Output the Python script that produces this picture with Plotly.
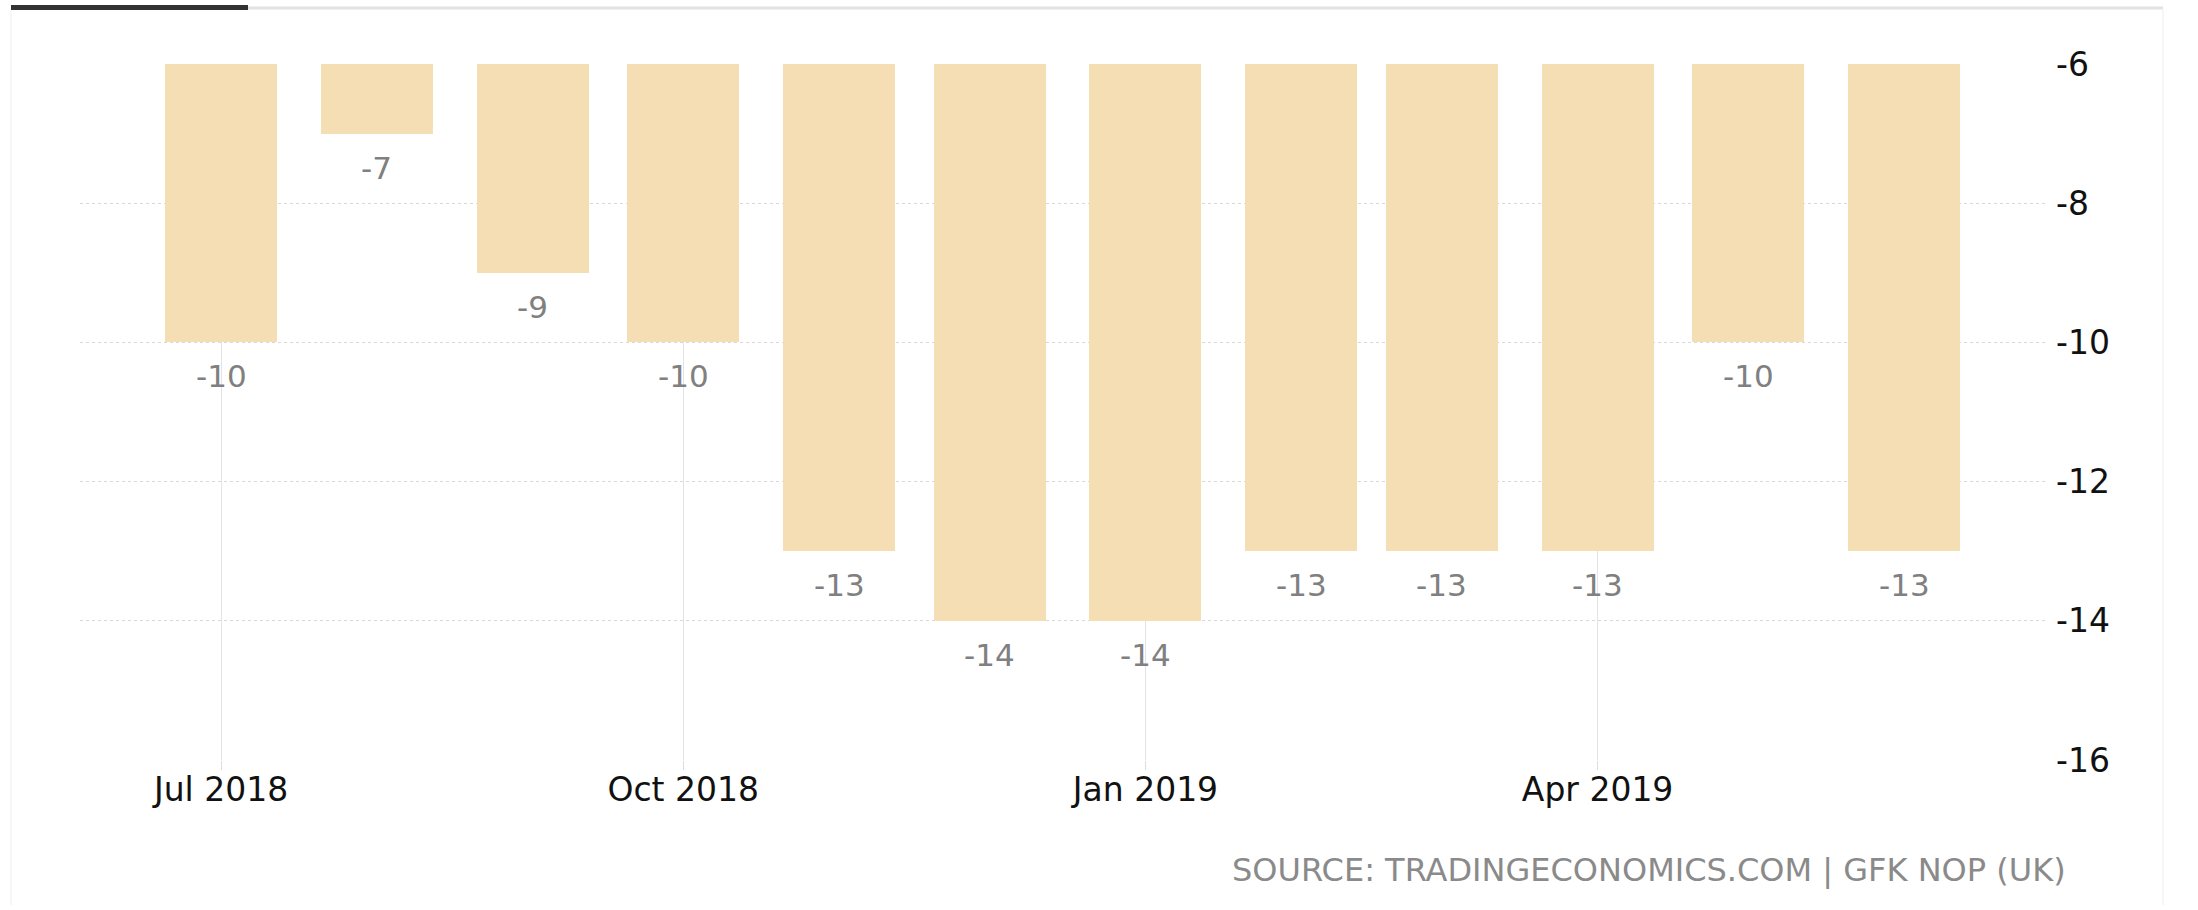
import plotly.graph_objects as go

# ---- data ----
months = ["2018-07-01", "2018-08-01", "2018-09-01", "2018-10-01", "2018-11-01", "2018-12-01",
          "2019-01-01", "2019-02-01", "2019-03-01", "2019-04-01", "2019-05-01", "2019-06-01"]
values = [-10, -7, -9, -10, -13, -14, -14, -13, -13, -13, -10, -13]
tick_dates = ["2018-07-01", "2018-10-01", "2019-01-01", "2019-04-01"]
tick_labels = ["Jul 2018", "Oct 2018", "Jan 2019", "Apr 2019"]
y_ticks = [-6, -8, -10, -12, -14, -16]
source_text = "SOURCE: TRADINGECONOMICS.COM | GFK NOP (UK)"

BASE = -6
W, H = 2198, 910
L = 80
R = W - 2047
T = 64
B = H - 760
PW, PH = W - L - R, H - T - B

def px(sx):
    return (sx - L) / PW

def py(sy):
    return (H - B - sy) / PH

FONT = "DejaVu Sans"

fig = go.Figure()
fig.add_trace(go.Bar(
    x=months,
    y=[v - BASE for v in values],
    base=BASE,
    width=22.3 * 86400000,
    marker=dict(color="#F5DEB3", line=dict(width=0)),
    hoverinfo="skip",
))

for m, v in zip(months, values):
    fig.add_annotation(x=m, y=v, text=str(v), showarrow=False, yanchor="middle",
                       yshift=-34, font=dict(family=FONT, size=31, color="#808080"))

fig.add_annotation(x=px(2068), y=py(870), xref="paper", yref="paper", text=source_text,
                   showarrow=False, xanchor="right", yanchor="middle",
                   font=dict(family=FONT, size=32, color="#8a8a8a"))

# decorative frame lines
fig.add_shape(type="line", xref="paper", yref="paper", x0=px(248), x1=px(2163), y0=py(8), y1=py(8),
              line=dict(color="#e2e2e2", width=3), layer="above")
fig.add_shape(type="line", xref="paper", yref="paper", x0=px(11), x1=px(248), y0=py(7.5), y1=py(7.5),
              line=dict(color="#333333", width=5), layer="above")
fig.add_shape(type="line", xref="paper", yref="paper", x0=px(11), x1=px(11), y0=py(10), y1=py(905),
              line=dict(color="#eeeeee", width=1), layer="above")
fig.add_shape(type="line", xref="paper", yref="paper", x0=px(2163), x1=px(2163), y0=py(10), y1=py(905),
              line=dict(color="#eeeeee", width=1), layer="above")

fig.update_layout(
    width=W, height=H,
    margin=dict(l=L, r=R, t=T, b=B),
    paper_bgcolor="white", plot_bgcolor="white",
    showlegend=False,
    bargap=0,
    xaxis=dict(
        type="date",
        range=["2018-06-02 22:00", "2019-06-29 11:00"],
        tickvals=tick_dates, ticktext=tick_labels,
        showgrid=True, gridcolor="#e3e3e3", gridwidth=1,
        ticks="outside", ticklen=9, tickcolor="#dddddd", tickwidth=1,
        ticklabelstandoff=-9,
        tickfont=dict(family=FONT, size=33, color="#111111"),
        showline=False, zeroline=False,
    ),
    yaxis=dict(
        range=[-16, -6], side="right",
        tickvals=y_ticks, ticktext=[str(t) for t in y_ticks],
        showgrid=True, gridcolor="#d8d8d8", gridwidth=1, griddash="dot",
        ticks="", ticklabelstandoff=8,
        tickfont=dict(family=FONT, size=33, color="#111111"),
        showline=False, zeroline=False,
    ),
)

fig.write_html("out.html", config={"displayModeBar": False},
               post_script="document.body.style.margin='0';document.body.style.overflow='hidden';")
